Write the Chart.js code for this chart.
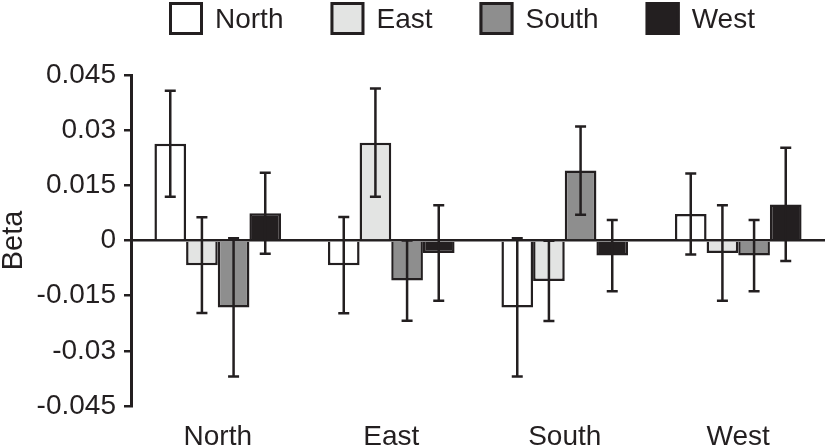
<!DOCTYPE html>
<html>
<head>
<meta charset="utf-8">
<script src="https://cdn.jsdelivr.net/npm/chart.js@4/dist/chart.umd.min.js"></script>
<style>
  html, body { margin: 0; padding: 0; background: #ffffff; }
  #wrap { width: 825px; height: 447px; }
</style>
</head>
<body>
<div id="wrap"><canvas id="beta"></canvas></div>
<script>
// Categories along the x axis, one group per region
const categories = ['North', 'East', 'South', 'West']

// Beta values per series (legend entry)
const northBeta = [0.0263, -0.0067, -0.0182, 0.0072]
const eastBeta = [-0.0067, 0.0266, -0.0110, -0.0034]
const southBeta = [-0.0182, -0.0109, 0.0190, -0.0041]
const westBeta = [0.0074, -0.0034, -0.0041, 0.0098]

// Half-length of each error bar
const northErr = [0.0144, 0.0131, 0.0188, 0.0110]
const eastErr = [0.0130, 0.0147, 0.0109, 0.0130]
const southErr = [0.0188, 0.0109, 0.0120, 0.0097]
const westErr = [0.0110, 0.0130, 0.0097, 0.0154]

// Y tick values
const yTicks = [-0.045, -0.03, -0.015, 0, 0.015, 0.03, 0.045]

const INK = '#231f20'
const FONT = "'Liberation Sans', Arial, sans-serif"

const series = [
  { label: 'North', data: northBeta, err: northErr, fill: '#ffffff' },
  { label: 'East', data: eastBeta, err: eastErr, fill: '#e3e4e3' },
  { label: 'South', data: southBeta, err: southErr, fill: '#8e8e8e' },
  { label: 'West', data: westBeta, err: westErr, fill: INK },
]

// Error bars drawn on top of the bars
const errorBars = {
  id: 'errorBars',
  afterDatasetsDraw(chart) {
    const ctx = chart.ctx
    const y = chart.scales.y
    ctx.save()
    ctx.strokeStyle = INK
    ctx.lineWidth = 2.5
    chart.data.datasets.forEach((ds, di) => {
      const meta = chart.getDatasetMeta(di)
      meta.data.forEach((bar, i) => {
        const v = ds.data[i]
        const e = ds.errors[i]
        const top = y.getPixelForValue(v + e)
        const bottom = y.getPixelForValue(v - e)
        const cap = 5.5
        ctx.beginPath()
        ctx.moveTo(bar.x, top)
        ctx.lineTo(bar.x, bottom)
        ctx.moveTo(bar.x - cap, top)
        ctx.lineTo(bar.x + cap, top)
        ctx.moveTo(bar.x - cap, bottom)
        ctx.lineTo(bar.x + cap, bottom)
        ctx.stroke()
      })
    })
    ctx.restore()
  },
}

// Legend row across the top, boxes with thick outlines
const boxLegend = {
  id: 'boxLegend',
  afterDraw(chart) {
    const ctx = chart.ctx
    ctx.save()
    ctx.font = '28px ' + FONT
    ctx.textBaseline = 'alphabetic'
    ctx.textAlign = 'left'
    let x = 169
    chart.data.datasets.forEach((ds) => {
      ctx.fillStyle = ds.backgroundColor
      ctx.fillRect(x, 2, 34, 33)
      ctx.strokeStyle = INK
      ctx.lineWidth = 3
      ctx.strokeRect(x + 1.5, 3.5, 31, 30)
      ctx.fillStyle = INK
      ctx.fillText(ds.label, x + 34 + 12, 28)
      x += 34 + 12 + ctx.measureText(ds.label).width + 47
    })
    ctx.restore()
  },
}

new Chart(document.getElementById('beta'), {
  type: 'bar',
  data: {
    labels: categories,
    datasets: series.map((s) => ({
      label: s.label,
      data: s.data,
      errors: s.err,
      backgroundColor: s.fill,
      borderColor: INK,
      borderWidth: 2.5,
      categoryPercentage: 0.73,
      barPercentage: 1,
    })),
  },
  options: {
    responsive: true,
    maintainAspectRatio: false,
    animation: false,
    devicePixelRatio: 1,
    layout: { padding: { top: 75, right: 0, bottom: 0, left: 0 } },
    plugins: {
      legend: { display: false },
      tooltip: { enabled: false },
    },
    scales: {
      x: {
        grid: { display: false, drawTicks: false },
        border: { display: false },
        ticks: {
          color: INK,
          padding: 14,
          font: { family: FONT, size: 28 },
        },
        afterFit(scale) { scale.height = 41 },
      },
      y: {
        min: -0.045,
        max: 0.045,
        afterBuildTicks(scale) {
          scale.ticks = yTicks.map((v) => ({ value: v }))
        },
        ticks: {
          color: INK,
          padding: 8,
          font: { family: FONT, size: 28 },
          callback: (v) => String(v),
        },
        grid: {
          drawOnChartArea: true,
          color: (c) => (c.tick && c.tick.value === 0 ? INK : 'rgba(0,0,0,0)'),
          lineWidth: 2.5,
          tickColor: INK,
          tickLength: 7,
        },
        border: { display: true, color: INK, width: 3 },
        title: {
          display: true,
          text: 'Beta',
          color: INK,
          padding: { top: -1, bottom: 0 },
          font: { family: FONT, size: 29, lineHeight: 1 },
        },
        afterFit(scale) { scale.width = 131 },
      },
    },
  },
  plugins: [errorBars, boxLegend],
})
</script>
</body>
</html>
